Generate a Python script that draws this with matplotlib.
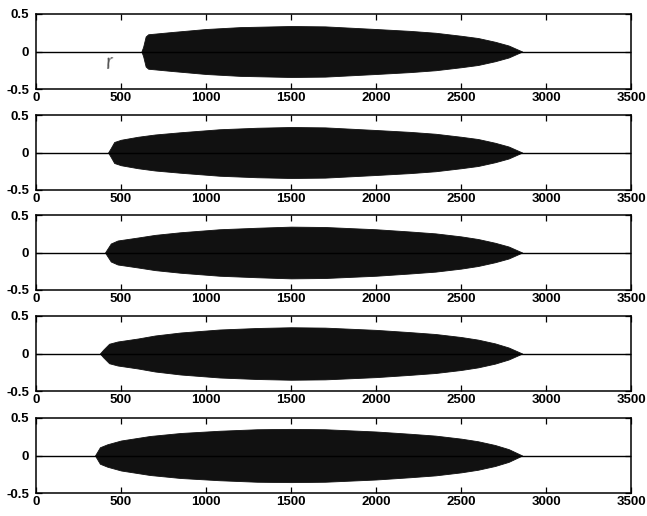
import matplotlib
matplotlib.use("Agg")
import matplotlib.pyplot as plt

plt.rcParams['font.family'] = ['Liberation Sans', 'DejaVu Sans']

# Envelope knots (sample index, amplitude) of each recorded signal
x1 = [620, 630, 645, 660, 800, 1000, 1200, 1500, 1700, 2000, 2200, 2350, 2500, 2600, 2700, 2780, 2860]
a1 = [0.0, 0.06, 0.20, 0.23, 0.26, 0.30, 0.325, 0.34, 0.335, 0.30, 0.275, 0.25, 0.21, 0.18, 0.13, 0.08, 0.0]

x2 = [424, 440, 460, 500, 600, 700, 850, 1080, 1300, 1500, 1700, 2000, 2200, 2350, 2500, 2600, 2700, 2780, 2860]
a2 = [0.0, 0.06, 0.14, 0.17, 0.21, 0.24, 0.27, 0.31, 0.33, 0.34, 0.335, 0.30, 0.275, 0.25, 0.21, 0.18, 0.13, 0.08, 0.0]

x3 = [406, 420, 440, 480, 600, 700, 850, 1080, 1300, 1500, 1700, 2000, 2200, 2350, 2500, 2600, 2700, 2780, 2860]
a3 = [0.0, 0.05, 0.12, 0.16, 0.20, 0.235, 0.27, 0.31, 0.33, 0.345, 0.34, 0.31, 0.28, 0.255, 0.215, 0.18, 0.13, 0.08, 0.0]

x4 = [376, 395, 430, 480, 600, 700, 850, 1080, 1300, 1500, 1700, 2000, 2200, 2350, 2500, 2600, 2700, 2780, 2860]
a4 = [0.0, 0.05, 0.13, 0.16, 0.20, 0.24, 0.28, 0.32, 0.34, 0.35, 0.345, 0.315, 0.285, 0.26, 0.22, 0.185, 0.135, 0.08, 0.0]

x5 = [347, 376, 420, 500, 670, 850, 1080, 1300, 1500, 1700, 2000, 2200, 2350, 2500, 2600, 2700, 2780, 2860]
a5 = [0.0, 0.11, 0.15, 0.20, 0.26, 0.30, 0.33, 0.35, 0.355, 0.35, 0.32, 0.29, 0.265, 0.225, 0.19, 0.14, 0.085, 0.0]

signals = [(x1, a1), (x2, a2), (x3, a3), (x4, a4), (x5, a5)]

x_ticks = [0, 500, 1000, 1500, 2000, 2500, 3000, 3500]
y_ticks = [-0.5, 0, 0.5]
y_tick_labels = ['-0.5', '0', '0.5']
x_limits = (0, 3500)
y_limits = (-0.5, 0.5)

W, H = 647, 516
fig = plt.figure(figsize=(W / 100, H / 100), dpi=100)

tops = [14, 115, 215, 316, 418]
panel_h = 75
left_px, right_px = 36, 631

for top, (xs, amps) in zip(tops, signals):
    ax = fig.add_axes([left_px / W, 1 - (top + panel_h) / H,
                       (right_px - left_px) / W, panel_h / H])
    ax.plot(x_limits, [0, 0], color='black', lw=1.0)
    ax.fill_between(xs, [-a for a in amps], amps, color='#111111', lw=0.6,
                    edgecolor='#111111')
    ax.set_xlim(*x_limits)
    ax.set_ylim(*y_limits)
    ax.set_xticks(x_ticks)
    ax.set_yticks(y_ticks)
    ax.set_xticklabels([str(t) for t in x_ticks], fontsize=9.5, fontweight='bold')
    ax.set_yticklabels(y_tick_labels, fontsize=9.5, fontweight='bold')
    ax.tick_params(axis='x', direction='in', length=4, width=0.9, top=True,
                   pad=2.5)
    ax.tick_params(axis='y', direction='in', length=4, width=0.9, right=True,
                   pad=5)
    for s in ax.spines.values():
        s.set_linewidth(1.1)

# pen mark on the first trace
fig.text(109 / W, 1 - 63 / H, 'r', color='#555555', fontsize=15,
         fontstyle='italic', ha='center', va='center', rotation=8)

fig.savefig('out.png', dpi=100)
